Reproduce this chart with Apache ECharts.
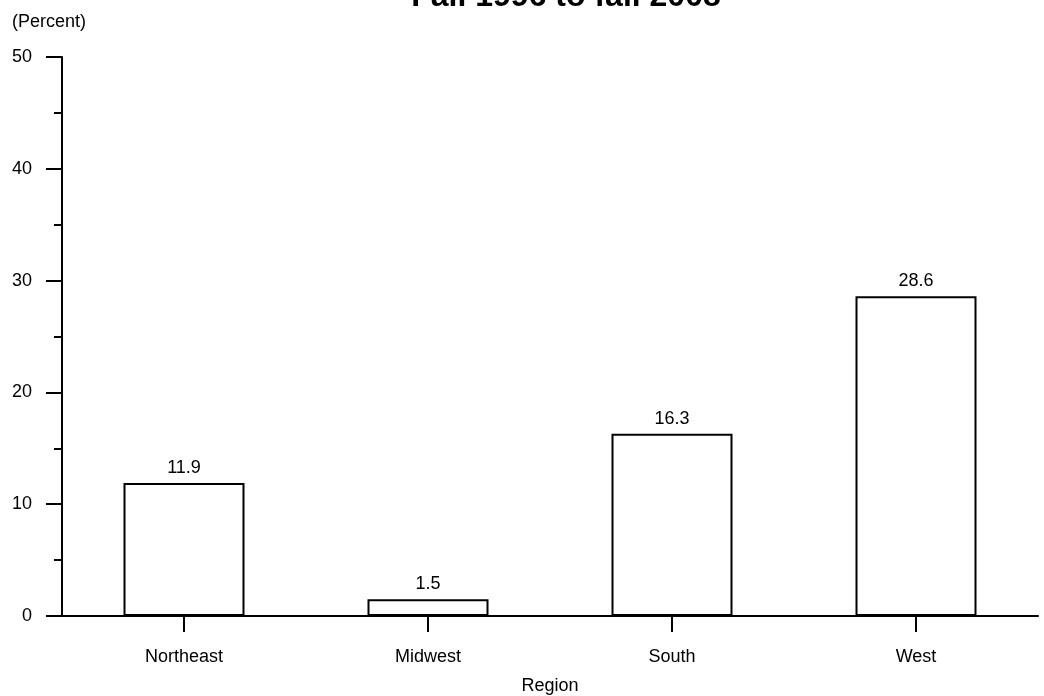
<!DOCTYPE html>
<html>
<head>
<meta charset="utf-8">
<script src="https://cdn.jsdelivr.net/npm/echarts@6/dist/echarts.min.js"></script>
<style>
  html, body { margin: 0; padding: 0; background: #fff; }
  #chart { width: 1044px; height: 696px; }
</style>
</head>
<body>
<div id="chart"></div>
<script>
// Percent change in enrollment by region
const titleText = 'Fall 1996 to fall 2008';
const regions = ['Northeast', 'Midwest', 'South', 'West'];
const percentChange = [11.9, 1.5, 16.3, 28.6];
const yTicks = [0, 10, 20, 30, 40, 50];

const FONT = '"Liberation Sans", Arial, sans-serif';

const chart = echarts.init(document.getElementById('chart'));
chart.setOption({
  backgroundColor: '#ffffff',
  animation: false,
  title: {
    text: titleText,
    left: 561,
    textAlign: 'center',
    top: -24,
    textStyle: { fontFamily: FONT, fontSize: 32, fontWeight: 'bold', color: '#000' }
  },
  graphic: [{
    type: 'text',
    left: 12,
    top: 13,
    style: { text: '(Percent)', font: '18px ' + FONT, fill: '#000' }
  }],
  grid: { left: 62, right: 6, top: 57, bottom: 80, containLabel: false, outerBoundsMode: 'none' },
  xAxis: {
    type: 'category',
    data: regions,
    name: 'Region',
    nameLocation: 'middle',
    nameGap: 61,
    nameTextStyle: { fontFamily: FONT, fontSize: 18, color: '#000' },
    axisLine: { show: true, lineStyle: { color: '#000', width: 2 } },
    axisTick: { show: true, alignWithLabel: true, length: 16, lineStyle: { color: '#000', width: 2 } },
    axisLabel: { fontFamily: FONT, fontSize: 18, color: '#000', margin: 32 },
    splitLine: { show: false }
  },
  yAxis: {
    type: 'value',
    min: yTicks[0],
    max: yTicks[yTicks.length - 1],
    interval: 10,
    axisLine: { show: true, lineStyle: { color: '#000', width: 2 } },
    axisTick: { show: true, length: 16, lineStyle: { color: '#000', width: 2 } },
    minorTick: { show: true, splitNumber: 2, length: 8, lineStyle: { color: '#000', width: 2 } },
    axisLabel: { fontFamily: FONT, fontSize: 18, color: '#000', margin: 30 },
    splitLine: { show: false },
    minorSplitLine: { show: false }
  },
  series: [{
    type: 'bar',
    data: percentChange,
    barWidth: 121,
    itemStyle: { color: '#ffffff', borderColor: '#000', borderWidth: 2 },
    label: {
      show: true,
      position: 'top',
      distance: 6,
      fontFamily: FONT,
      fontSize: 18,
      color: '#000',
      formatter: p => p.value.toFixed(1)
    }
  }]
});
</script>
</body>
</html>
